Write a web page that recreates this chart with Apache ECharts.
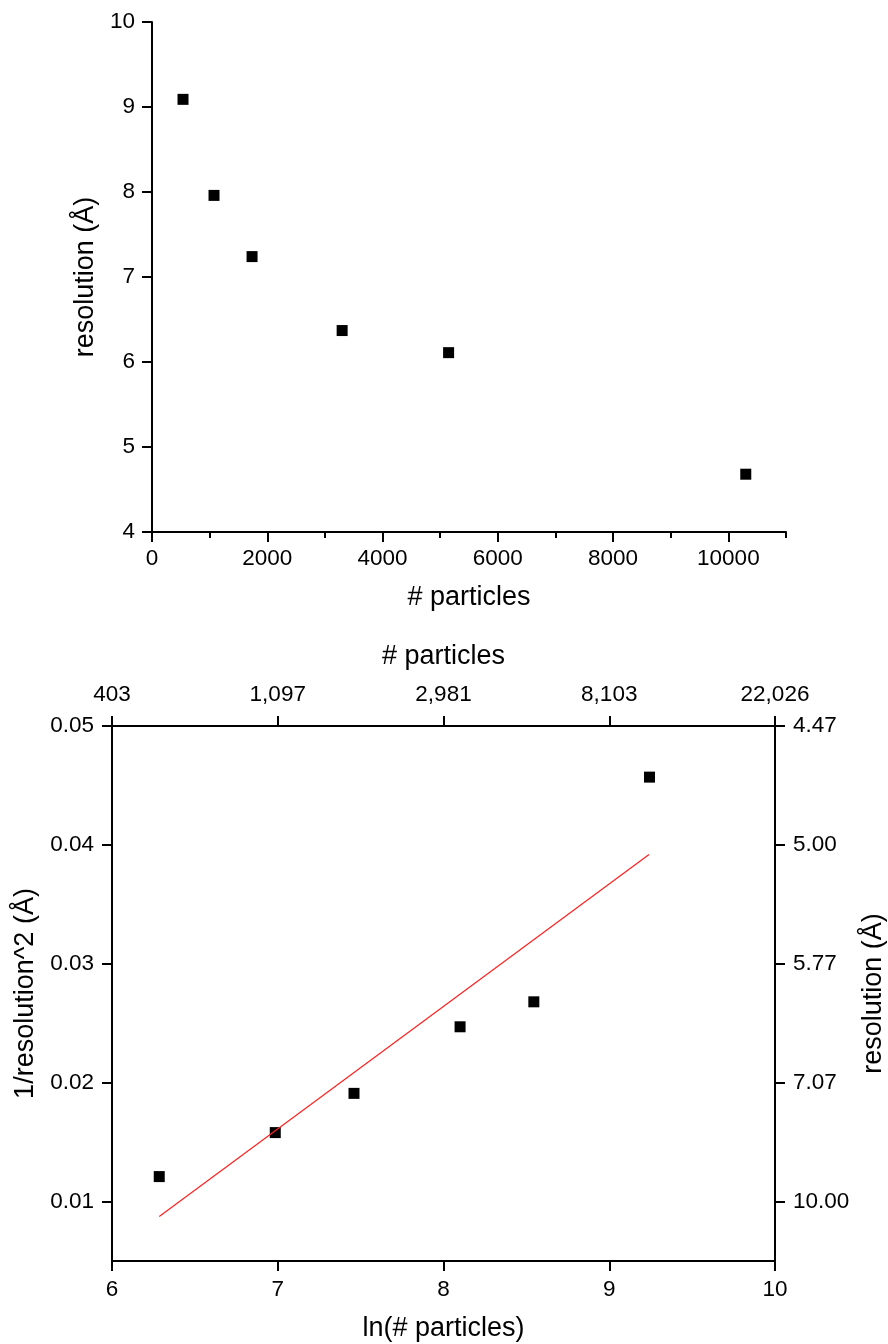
<!DOCTYPE html>
<html>
<head>
<meta charset="UTF-8" />
<title>resolution vs particles</title>
<script src="https://cdn.jsdelivr.net/npm/echarts@6/dist/echarts.min.js"></script>
<style>
    html, body { margin: 0; padding: 0; background: #fff; }
    #main { width: 888px; height: 1344px; }
</style>
</head>
<body>
<div id="main"></div>
<script type="text/javascript">
    // top panel: resolution vs number of particles
    var particles = [538, 1076, 1736, 3299, 5146, 10302];
    var resolution = [9.09, 7.96, 7.24, 6.37, 6.11, 4.68];
    var topMajorTicks = [0, 2000, 4000, 6000, 8000, 10000];
    var topMinorTicks = [1000, 3000, 5000, 7000, 9000, 11000];

    // bottom panel: 1/resolution^2 vs ln(# particles)
    var lnParticles = [6.285, 6.985, 7.46, 8.10, 8.545, 9.243];
    var invRes2 = [0.0121, 0.0158, 0.0191, 0.0247, 0.0268, 0.0457];
    // linear fit line (red)
    var fitX = [6.285, 9.24];
    var fitY = [0.00874, 0.0392];

    var leftTickValues = [0.01, 0.02, 0.03, 0.04, 0.05];
    var rightTickLabels = ['10.00', '7.07', '5.77', '5.00', '4.47'];
    var topTickValues = [6, 7, 8, 9, 10];
    var topTickLabels = ['403', '1,097', '2,981', '8,103', '22,026'];

    function pickLabel(values, labels, v) {
        var best = 0;
        for (var i = 1; i < values.length; i++) {
            if (Math.abs(values[i] - v) < Math.abs(values[best] - v)) best = i;
        }
        return labels[best];
    }

    var font = 'Liberation Sans, Arial, sans-serif';
    var lineStyle = { color: '#000', width: 2 };
    var labelStyle = { color: '#000', fontSize: 22.5, fontFamily: font };
    var nameStyle = { color: '#000', fontSize: 27, fontFamily: font };

    var myChart = echarts.init(document.getElementById('main'));
    var option = {
        backgroundColor: '#ffffff',
        animation: false,
        grid: [
            { left: 152, top: 22, width: 634, height: 510, outerBoundsMode: 'none' },
            { left: 112, top: 726, width: 663, height: 535, outerBoundsMode: 'none' },
            { left: 152, top: 22, width: 634, height: 510, outerBoundsMode: 'none' }   // only for minor ticks
        ],
        xAxis: [
            {
                gridIndex: 0, type: 'value', min: 0, max: 11000, interval: 1000,
                name: '# particles', nameLocation: 'middle', nameGap: 52, nameTextStyle: nameStyle,
                axisLine: { lineStyle: lineStyle },
                axisTick: { length: 10, lineStyle: lineStyle, customValues: topMajorTicks },
                axisLabel: Object.assign({
                    margin: 15, customValues: topMajorTicks,
                    formatter: function (v) { return String(v); }
                }, labelStyle),
                splitLine: { show: false }
            },
            {
                gridIndex: 2, type: 'value', min: 0, max: 11000,
                axisLine: { show: false },
                axisTick: { length: 6, lineStyle: lineStyle, customValues: topMinorTicks },
                axisLabel: { show: false },
                splitLine: { show: false }
            },
            {
                gridIndex: 1, type: 'value', position: 'bottom', min: 6, max: 10, interval: 1,
                name: 'ln(# particles)', nameLocation: 'middle', nameGap: 54, nameTextStyle: nameStyle,
                axisLine: { lineStyle: lineStyle },
                axisTick: { length: 10, lineStyle: lineStyle },
                axisLabel: Object.assign({ margin: 17 }, labelStyle),
                splitLine: { show: false }
            },
            {
                gridIndex: 1, type: 'value', position: 'top', min: 6, max: 10, interval: 1,
                name: '# particles', nameLocation: 'middle', nameGap: 56, nameTextStyle: nameStyle,
                axisLine: { lineStyle: lineStyle },
                axisTick: { length: 10, lineStyle: lineStyle },
                axisLabel: Object.assign({
                    margin: 20,
                    formatter: function (v) { return pickLabel(topTickValues, topTickLabels, v); }
                }, labelStyle),
                splitLine: { show: false }
            }
        ],
        yAxis: [
            {
                gridIndex: 0, type: 'value', min: 4, max: 10, interval: 1,
                name: 'resolution (Å)', nameLocation: 'middle', nameGap: 45, nameTextStyle: nameStyle,
                axisLine: { show: true, lineStyle: lineStyle },
                axisTick: { show: true, length: 10, lineStyle: lineStyle },
                axisLabel: Object.assign({ margin: 17 }, labelStyle),
                splitLine: { show: false }
            },
            {
                gridIndex: 2, type: 'value', min: 4, max: 10, show: false
            },
            {
                gridIndex: 1, type: 'value', position: 'left', min: 0.005, max: 0.05,
                name: '1/resolution^2 (Å)', nameLocation: 'middle', nameGap: 70, nameTextStyle: nameStyle,
                axisLine: { show: true, lineStyle: lineStyle },
                axisTick: { show: true, length: 10, lineStyle: lineStyle, customValues: leftTickValues },
                axisLabel: Object.assign({ margin: 18, customValues: leftTickValues }, labelStyle),
                splitLine: { show: false }
            },
            {
                gridIndex: 1, type: 'value', position: 'right', min: 0.005, max: 0.05,
                name: 'resolution (Å)', nameLocation: 'middle', nameGap: 81, nameTextStyle: nameStyle,
                axisLine: { show: true, lineStyle: lineStyle },
                axisTick: { show: true, length: 10, lineStyle: lineStyle, customValues: leftTickValues },
                axisLabel: Object.assign({
                    margin: 18,
                    customValues: leftTickValues,
                    formatter: function (v) { return pickLabel(leftTickValues, rightTickLabels, v); }
                }, labelStyle),
                splitLine: { show: false }
            }
        ],
        series: [
            {
                type: 'scatter', xAxisIndex: 0, yAxisIndex: 0,
                symbol: 'rect', symbolSize: 11,
                itemStyle: { color: '#000', opacity: 1 },
                data: particles.map(function (p, i) { return [p, resolution[i]]; })
            },
            {
                type: 'line', xAxisIndex: 2, yAxisIndex: 2,
                showSymbol: false, symbol: 'none',
                lineStyle: { color: '#ff2020', width: 1.2 },
                data: fitX.map(function (x, i) { return [x, fitY[i]]; })
            },
            {
                type: 'scatter', xAxisIndex: 2, yAxisIndex: 2,
                symbol: 'rect', symbolSize: 11,
                itemStyle: { color: '#000', opacity: 1 },
                data: lnParticles.map(function (x, i) { return [x, invRes2[i]]; })
            }
        ]
    };
    myChart.setOption(option);
</script>
</body>
</html>
